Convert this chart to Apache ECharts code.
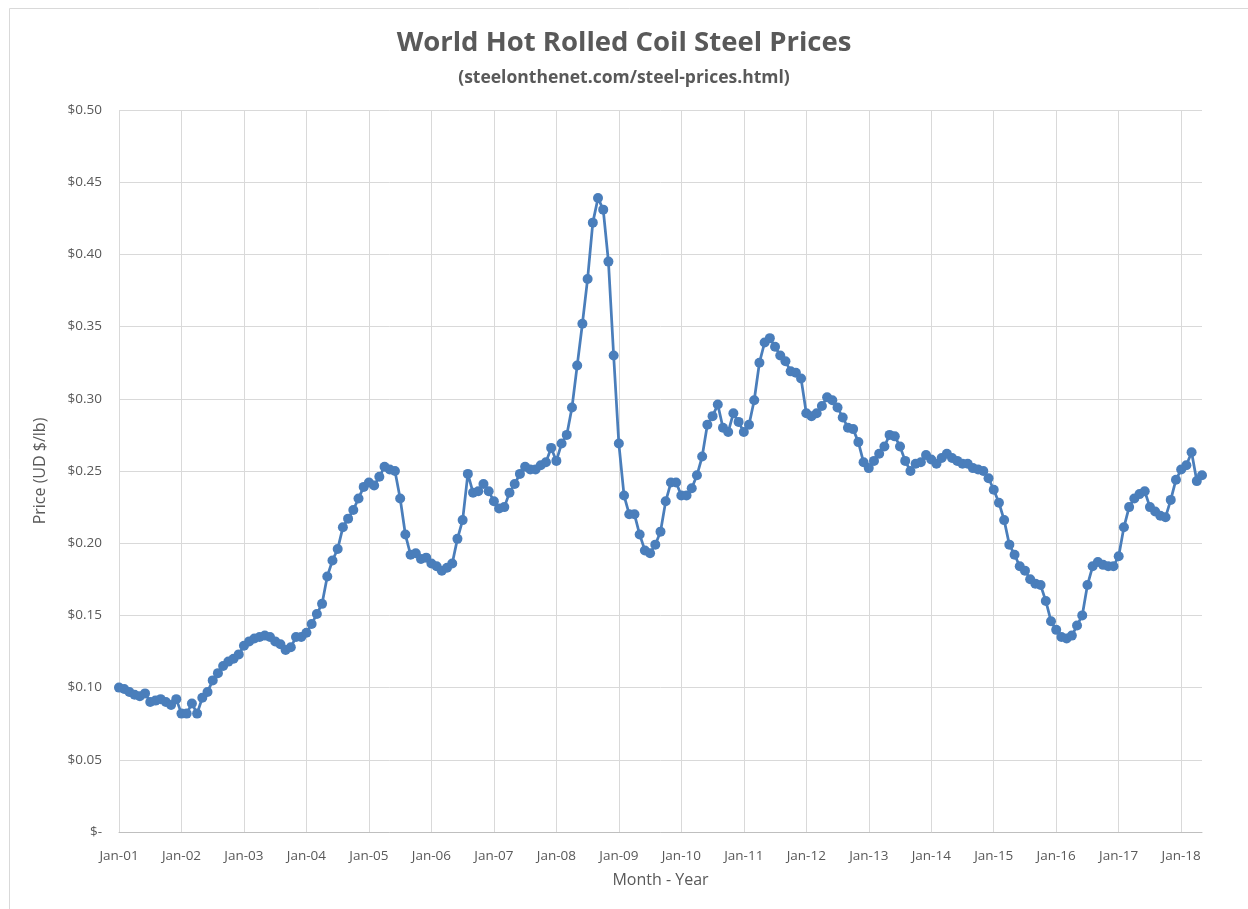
<!DOCTYPE html>
<html>
<head>
<meta charset="utf-8">
<script src="https://cdn.jsdelivr.net/npm/echarts@6/dist/echarts.min.js"></script>
<style>
html,body{margin:0;padding:0;background:#fff;}
#chart{width:1248px;height:909px;}
</style>
</head>
<body>
<div id="chart"></div>
<script>
// Tick / category labels
const monthNames = ['Jan','Feb','Mar','Apr','May','Jun','Jul','Aug','Sep','Oct','Nov','Dec'];
const yearLabels = ['01','02','03','04','05','06','07','08','09','10','11','12','13','14','15','16','17','18'];

// Monthly prices (US $/lb), one array per year
const p2001 = [0.100,0.099,0.097,0.095,0.094,0.096,0.090,0.091,0.092,0.090,0.088,0.092];
const p2002 = [0.082,0.082,0.089,0.082,0.093,0.097,0.105,0.110,0.115,0.118,0.120,0.123];
const p2003 = [0.129,0.132,0.134,0.135,0.136,0.135,0.132,0.130,0.126,0.128,0.135,0.135];
const p2004 = [0.138,0.144,0.151,0.158,0.177,0.188,0.196,0.211,0.217,0.223,0.231,0.239];
const p2005 = [0.242,0.240,0.246,0.253,0.251,0.250,0.231,0.206,0.192,0.193,0.189,0.190];
const p2006 = [0.186,0.184,0.181,0.183,0.186,0.203,0.216,0.248,0.235,0.236,0.241,0.236];
const p2007 = [0.229,0.224,0.225,0.235,0.241,0.248,0.253,0.251,0.251,0.254,0.256,0.266];
const p2008 = [0.257,0.269,0.275,0.294,0.323,0.352,0.383,0.422,0.439,0.431,0.395,0.330];
const p2009 = [0.269,0.233,0.220,0.220,0.206,0.195,0.193,0.199,0.208,0.229,0.242,0.242];
const p2010 = [0.233,0.233,0.238,0.247,0.260,0.282,0.288,0.296,0.280,0.277,0.290,0.284];
const p2011 = [0.277,0.282,0.299,0.325,0.339,0.342,0.336,0.330,0.326,0.319,0.318,0.314];
const p2012 = [0.290,0.288,0.290,0.295,0.301,0.299,0.294,0.287,0.280,0.279,0.270,0.256];
const p2013 = [0.252,0.257,0.262,0.267,0.275,0.274,0.267,0.257,0.250,0.255,0.256,0.261];
const p2014 = [0.258,0.255,0.259,0.262,0.259,0.257,0.255,0.255,0.252,0.251,0.250,0.245];
const p2015 = [0.237,0.228,0.216,0.199,0.192,0.184,0.181,0.175,0.172,0.171,0.160,0.146];
const p2016 = [0.140,0.135,0.134,0.136,0.143,0.150,0.171,0.184,0.187,0.185,0.184,0.184];
const p2017 = [0.191,0.211,0.225,0.231,0.234,0.236,0.225,0.222,0.219,0.218,0.230,0.244];
const p2018 = [0.251,0.254,0.263,0.243,0.247];

const yearData = [p2001,p2002,p2003,p2004,p2005,p2006,p2007,p2008,p2009,p2010,p2011,p2012,p2013,p2014,p2015,p2016,p2017,p2018];

const categories = [];
const prices = [];
yearData.forEach(function(arr, yi){
  arr.forEach(function(v, mi){
    categories.push(monthNames[mi] + '-' + yearLabels[yi]);
    prices.push(v);
  });
});

const chart = echarts.init(document.getElementById('chart'), null, {renderer:'canvas'});
const txt = '#595959';
const fontFam = '"Open Sans", "Noto Sans", sans-serif';
const blue = '#4a7ebb';

chart.setOption({
  backgroundColor:'#ffffff',
  animation:false,
  graphic:[{
    type:'rect', left:7, top:6, silent:true,
    shape:{x:0,y:0,width:1260,height:920},
    style:{fill:'none', stroke:'#d9d9d9', lineWidth:1}
  }],
  title:[{
    text:'World Hot Rolled Coil Steel Prices',
    left:'center', top:24,
    textStyle:{color:txt, fontSize:27.5, fontWeight:'bold', fontFamily:fontFam}
  },{
    text:'(steelonthenet.com/steel-prices.html)',
    left:'center', top:64,
    textStyle:{color:txt, fontSize:17.5, fontWeight:'bold', fontFamily:fontFam}
  }],
  grid:{left:119, right:46, top:110, bottom:77, containLabel:false},
  xAxis:{
    type:'category',
    data:categories,
    boundaryGap:false,
    name:'Month - Year',
    nameLocation:'middle',
    nameGap:40,
    nameTextStyle:{color:txt, fontSize:16, fontFamily:fontFam},
    axisLine:{show:true, lineStyle:{color:'#bfbfbf', width:1}},
    axisTick:{show:false},
    axisLabel:{
      color:txt, fontSize:13.5, fontFamily:fontFam, margin:17,
      interval:function(i){ return i % 12 === 0; }
    },
    splitLine:{show:true, interval:function(i){ return i % 12 === 0; }, lineStyle:{color:'#d9d9d9', width:1}}
  },
  yAxis:{
    type:'value',
    min:0, max:0.5, interval:0.05,
    name:'Price (UD $/lb)',
    nameLocation:'middle',
    nameRotate:90,
    nameGap:71,
    nameTextStyle:{color:txt, fontSize:16, fontFamily:fontFam},
    axisLine:{show:false},
    axisTick:{show:false},
    axisLabel:{
      color:txt, fontSize:13.5, fontFamily:fontFam, margin:17,
      formatter:function(v){ return v === 0 ? '$-' : '$' + v.toFixed(2); }
    },
    splitLine:{show:true, lineStyle:{color:'#d9d9d9', width:1}}
  },
  series:[{
    type:'line',
    data:prices,
    symbol:'circle',
    symbolSize:10,
    showAllSymbol:true,
    lineStyle:{color:blue, width:2.75},
    itemStyle:{color:blue, borderColor:blue, borderWidth:0}
  }]
});
</script>
</body>
</html>
